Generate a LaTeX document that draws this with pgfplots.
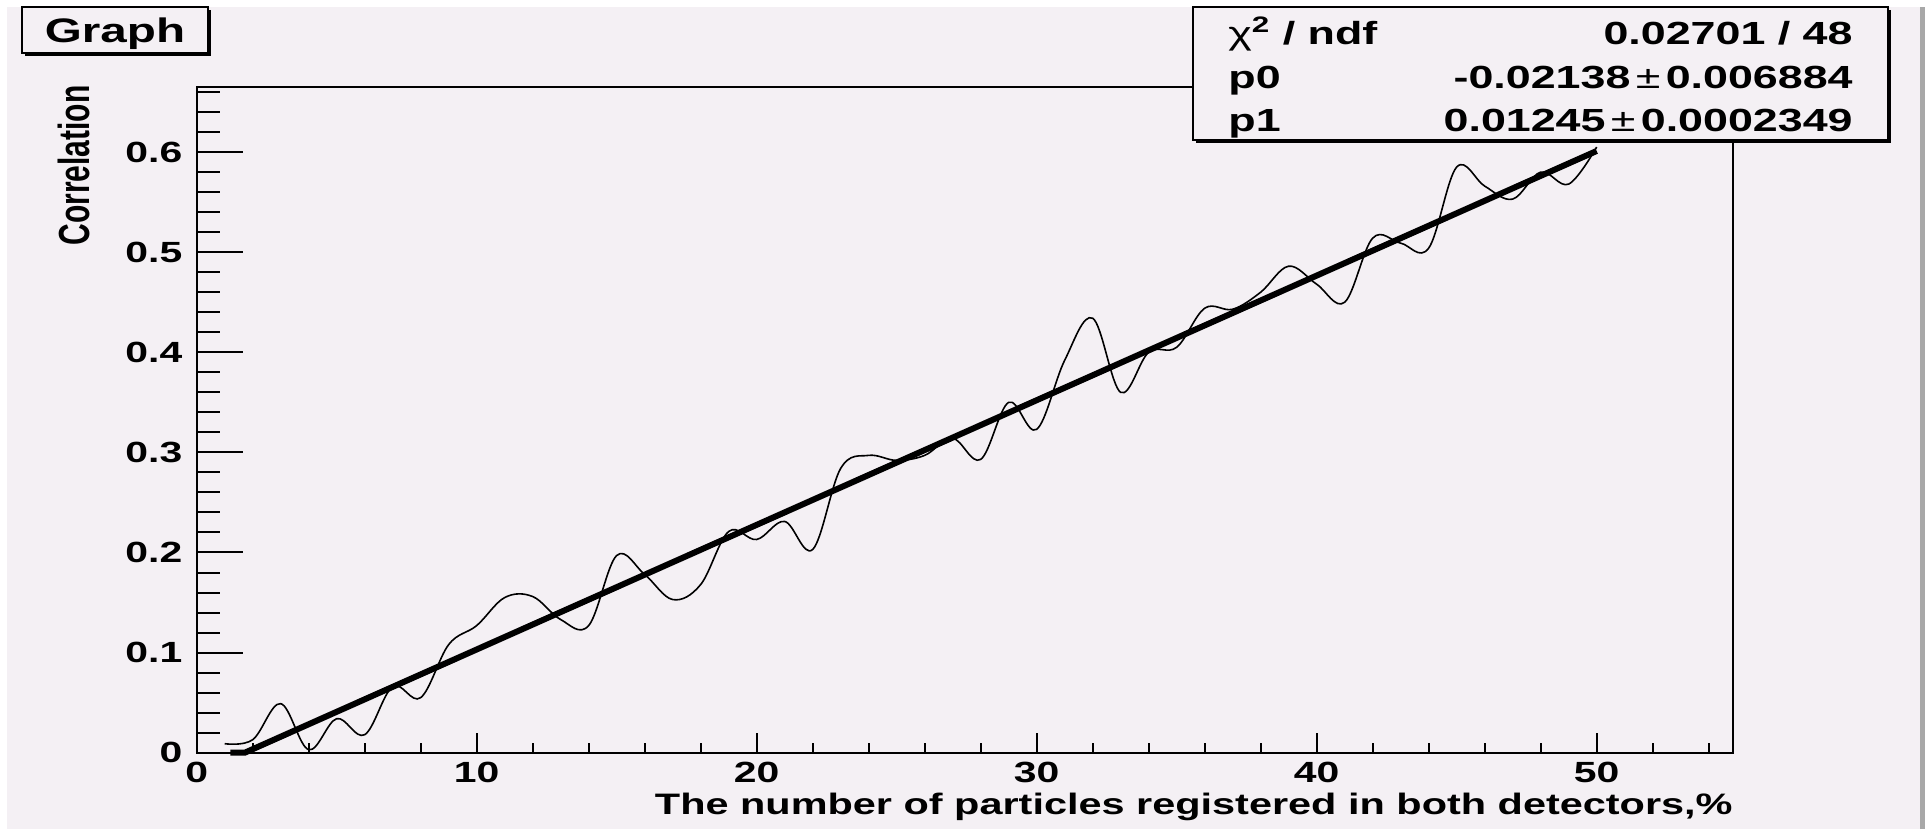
\documentclass[border=0pt]{standalone}
\usepackage{graphicx}
\usepackage{pgfplots}
\pgfplotsset{compat=1.18}
\usepackage{fontspec}
\setmainfont{Liberation Sans}[FakeStretch=1.4]
\newfontfamily\plainsans{Liberation Sans}
\definecolor{canvas}{RGB}{244,240,244}
\definecolor{edge}{RGB}{168,168,168}

% correlation measured at each share of particles seen by both detectors
\pgfplotstableread{
x   y
1   0.009
2   0.013
3   0.049
4   0.003
5   0.034
6   0.018
7   0.066
8   0.055
9   0.108
10  0.127
11  0.155
12  0.156
13  0.133
14  0.127
15  0.197
16  0.178
17  0.153
18  0.168
19  0.221
20  0.213
21  0.231
22  0.203
23  0.284
24  0.297
25  0.292
26  0.297
27  0.314
28  0.293
29  0.350
30  0.323
31  0.392
32  0.434
33  0.360
34  0.400
35  0.405
36  0.444
37  0.443
38  0.460
39  0.486
40  0.468
41  0.450
42  0.514
43  0.509
44  0.504
45  0.585
46  0.566
47  0.553
48  0.580
49  0.568
50  0.605
}\corrdata

\pgfplotsset{
  rootframe/.style={
    scale only axis,
    width=768.15pt, height=332.85pt,
    at={(98.35pt,-376.35pt)}, anchor=south west,
    xmin=0, xmax=54.87, ymin=0, ymax=0.665,
    tick align=inside, tick pos=left,
    axis line style={line width=1pt, black},
    tick style={line width=1pt, black},
    /pgf/number format/assume math mode=true,
    ticklabel style={font=\bfseries\fontsize{14.6}{17}\selectfont, inner sep=0pt},
    clip=false,
  },
}

\begin{document}
\begin{tikzpicture}
\begin{scope}[x=0.5pt,y=-0.5pt]
  \fill[white] (0,0) rectangle (1927,829);
  \fill[canvas] (7,7) rectangle (1920,829);
  \fill[edge] (1920,7) rectangle (1925,829);
\end{scope}

% y axis ticks, titles and the curves
\begin{axis}[
  rootframe,
  xtick=\empty,
  ytick={0,0.1,0.2,0.3,0.4,0.5,0.6},
  minor ytick={0.02,0.04,0.06,0.08,0.12,0.14,0.16,0.18,0.22,0.24,0.26,0.28,
               0.32,0.34,0.36,0.38,0.42,0.44,0.46,0.48,0.52,0.54,0.56,0.58,
               0.62,0.64,0.66},
  major tick length=23pt, minor tick length=11.5pt,
  yticklabel style={anchor=east, xshift=-7pt},
  xlabel={The number of particles registered in both detectors,\%},
  xlabel style={at={(rel axis cs:1,-0.0931)}, anchor=base east, inner sep=0pt,
                font=\bfseries\fontsize{14.8}{17}\selectfont},
  ylabel={\plainsans\bfseries\scalebox{1}[1.45]{Correlation}},
  ylabel style={at={(rel axis cs:-0.06965,1.003)}, anchor=base east, inner sep=0pt,
                font=\fontsize{15}{18}\selectfont},
]
  \addplot[black, line width=0.8pt, smooth, tension=0.6, mark=none]
    table[x=x, y=y] {\corrdata};
  % linear fit p0 + p1*x
  \addplot[black, line width=3pt, mark=none]
    coordinates {(1.2,0) (1.717,0) (50,0.6011)};
\end{axis}

% x axis ticks
\begin{axis}[
  rootframe,
  ytick=\empty,
  xtick={0,10,20,30,40,50},
  minor xtick={2,4,6,8,12,14,16,18,22,24,26,28,32,34,36,38,42,44,46,48,52,54},
  major tick length=10pt, minor tick length=5pt,
  xticklabel style={anchor=north, yshift=-4.5pt},
]
\end{axis}

\begin{scope}[x=0.5pt,y=-0.5pt]
  % title box
  \fill[black] (25,10) rectangle (211,56);
  \filldraw[fill=canvas, draw=black, line width=1pt] (22,7) rectangle (208,53);
  \node[anchor=base, inner sep=0pt, font=\bfseries\fontsize{17}{20}\selectfont]
    at (115,43) {Graph};
  % fit statistics box
  \fill[black] (1196,10) rectangle (1891,143);
  \filldraw[fill=canvas, draw=black, line width=1pt] (1193,7) rectangle (1888,140);
  \begin{scope}[every node/.style={inner sep=0pt, font=\bfseries\fontsize{16}{19}\selectfont}]
    \node[anchor=base west] at (1228,45) {{\mdseries χ}\textsuperscript{2} / ndf};
    \node[anchor=base east] at (1853,45) {0.02701 / 48};
    \node[anchor=base west] at (1228,89) {p0};
    \node[anchor=base east] at (1853,89) {-0.02138\,{\mdseries ±}\,0.006884};
    \node[anchor=base west] at (1228,132) {p1};
    \node[anchor=base east] at (1853,132) {0.01245\,{\mdseries ±}\,0.0002349};
  \end{scope}
  \pgfresetboundingbox
  \path[use as bounding box] (0,0) rectangle (1927,829);
\end{scope}
\end{tikzpicture}
\end{document}
